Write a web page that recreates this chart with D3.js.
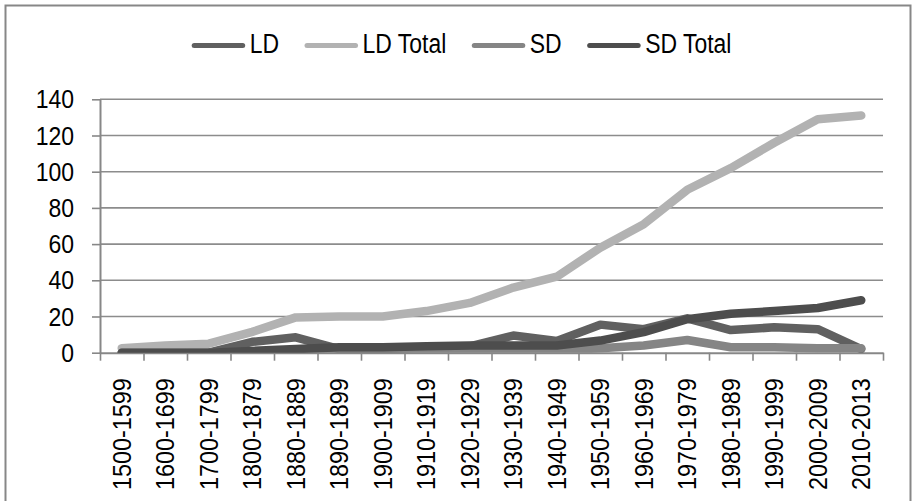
<!DOCTYPE html>
<html>
<head>
<meta charset="utf-8">
<script src="https://cdn.jsdelivr.net/npm/d3@7"></script>
<style>
  html, body { margin: 0; padding: 0; background: #fff; }
  svg { display: block; }
  text { font-family: "Liberation Sans", Arial, sans-serif; fill: #000; }
</style>
</head>
<body>
<svg id="chart" width="913" height="501"></svg>
<script>
// Decade buckets
const categories = [
  "1500-1599", "1600-1699", "1700-1799", "1800-1879", "1880-1889", "1890-1899",
  "1900-1909", "1910-1919", "1920-1929", "1930-1939", "1940-1949", "1950-1959",
  "1960-1969", "1970-1979", "1980-1989", "1990-1999", "2000-2009", "2010-2013"
];

// Series values per bucket
const ldValues      = [0, 0, 0, 6, 8.5, 2, 2, 3, 3.5, 9.5, 6.5, 15.5, 13, 19, 12.5, 14, 13, 2];
const ldTotalValues = [2.5, 4, 5, 11.5, 19.5, 20, 20, 23, 27.5, 36, 42, 58, 71, 90, 102, 116, 129, 131];
const sdValues      = [0, 0, 0, 0, 0.5, 1, 1, 1, 1, 1, 1, 2.5, 4, 7, 3, 3, 2.5, 2.5];
const sdTotalValues = [0, 0, 0, 1, 2, 3, 3, 3.5, 4, 4, 4, 6.7, 11.4, 18.5, 21.5, 23, 24.7, 29];

const seriesNames = ["LD", "LD Total", "SD", "SD Total"];
const seriesColors = ["#606060", "#b2b2b2", "#858585", "#4d4d4d"];
const seriesValues = [ldValues, ldTotalValues, sdValues, sdTotalValues];

// Value axis ticks
const yTicks = [0, 20, 40, 60, 80, 100, 120, 140];

const svg = d3.select("#chart");
const W = 913, H = 501;
const plot = { left: 100, right: 883, top: 99.3, bottom: 352.7 };

svg.append("rect").attr("width", W).attr("height", H).attr("fill", "#fff");

// Outer chart frame
svg.append("rect")
  .attr("x", 5.5).attr("y", 5.5)
  .attr("width", 905).attr("height", 505)
  .attr("fill", "none").attr("stroke", "#878787").attr("stroke-width", 2);

const x = d3.scaleBand().domain(categories).range([plot.left, plot.right]).padding(0);
const xEdge = d3.scaleLinear().domain([0, categories.length]).range([plot.left, plot.right]);
const y = d3.scaleLinear().domain([0, 140]).range([plot.bottom, plot.top]);

// Horizontal gridlines
svg.append("g")
  .selectAll("line")
  .data(yTicks.filter(t => t !== 0))
  .join("line")
  .attr("x1", plot.left).attr("x2", plot.right)
  .attr("y1", d => y(d)).attr("y2", d => y(d))
  .attr("stroke", "#8c8c8c").attr("stroke-width", 1.6);

// Value axis
const yAxis = svg.append("g")
  .attr("transform", `translate(${plot.left},0)`)
  .call(d3.axisLeft(y).tickValues(yTicks).tickSize(8).tickPadding(18).tickSizeOuter(0));
yAxis.select(".domain").attr("stroke", "#878787").attr("stroke-width", 2);
yAxis.selectAll(".tick line").attr("stroke", "#878787").attr("stroke-width", 1.6);
yAxis.selectAll(".tick text")
  .attr("font-size", 25)
  .attr("fill", "#000")
  .attr("x", null)
  .attr("dy", null)
  .attr("text-anchor", "end")
  .attr("transform", "translate(-26,0.33em) scale(0.92,1)")
  .style("font-family", "'Liberation Sans', Arial, sans-serif");
yAxis.selectAll(".tick text")
  .attr("transform", "translate(-26,8.5) scale(0.92,1)");

// Category axis: tick marks on bucket edges
const xTickAxis = svg.append("g")
  .attr("transform", `translate(0,${plot.bottom})`)
  .call(d3.axisBottom(xEdge).tickValues(d3.range(categories.length + 1)).tickSize(8).tickFormat("").tickSizeOuter(0));
xTickAxis.select(".domain").attr("stroke", "#878787").attr("stroke-width", 2);
xTickAxis.selectAll(".tick line").attr("stroke", "#878787").attr("stroke-width", 1.6);

// Category labels, rotated and slightly condensed
const xLabelAxis = svg.append("g")
  .attr("transform", `translate(0,${plot.bottom})`)
  .call(d3.axisBottom(x).tickSize(0).tickSizeOuter(0));
xLabelAxis.select(".domain").remove();
xLabelAxis.selectAll(".tick text")
  .attr("font-size", 26)
  .attr("fill", "#000")
  .style("font-family", "'Liberation Sans', Arial, sans-serif")
  .attr("transform", "rotate(-90) scale(0.9,1)")
  .attr("text-anchor", "end")
  .attr("x", -25.5 / 0.9)
  .attr("y", 0)
  .attr("dy", "0.35em");

// Lines, clipped to the plot area
svg.append("clipPath").attr("id", "plotClip")
  .append("rect")
  .attr("x", plot.left).attr("y", 0)
  .attr("width", plot.right - plot.left).attr("height", plot.bottom);

const line = d3.line()
  .x((d, i) => x(categories[i]) + x.bandwidth() / 2)
  .y(d => y(d));

const lines = svg.append("g").attr("clip-path", "url(#plotClip)");
seriesValues.forEach((vals, k) => {
  lines.append("path")
    .datum(vals)
    .attr("d", line)
    .attr("fill", "none")
    .attr("stroke", seriesColors[k])
    .attr("stroke-width", 8.5)
    .attr("stroke-linejoin", "round")
    .attr("stroke-linecap", "round");
});

// Legend
const legend = svg.append("g");
const legendY = 45.5;
const legendTextScale = 0.85;
let lx = 191.7;
seriesNames.forEach((name, k) => {
  legend.append("line")
    .attr("x1", lx + 2.5).attr("x2", lx + 51)
    .attr("y1", legendY).attr("y2", legendY)
    .attr("stroke", seriesColors[k])
    .attr("stroke-width", 5)
    .attr("stroke-linecap", "round");
  const tx = lx + 58;
  const t = legend.append("text")
    .attr("transform", `translate(${tx},52.5) scale(${legendTextScale},1)`)
    .attr("font-size", 27)
    .attr("fill", "#111")
    .text(name);
  const w = t.node().getComputedTextLength() * legendTextScale;
  lx = tx + w + 25.5;
});
</script>
</body>
</html>
